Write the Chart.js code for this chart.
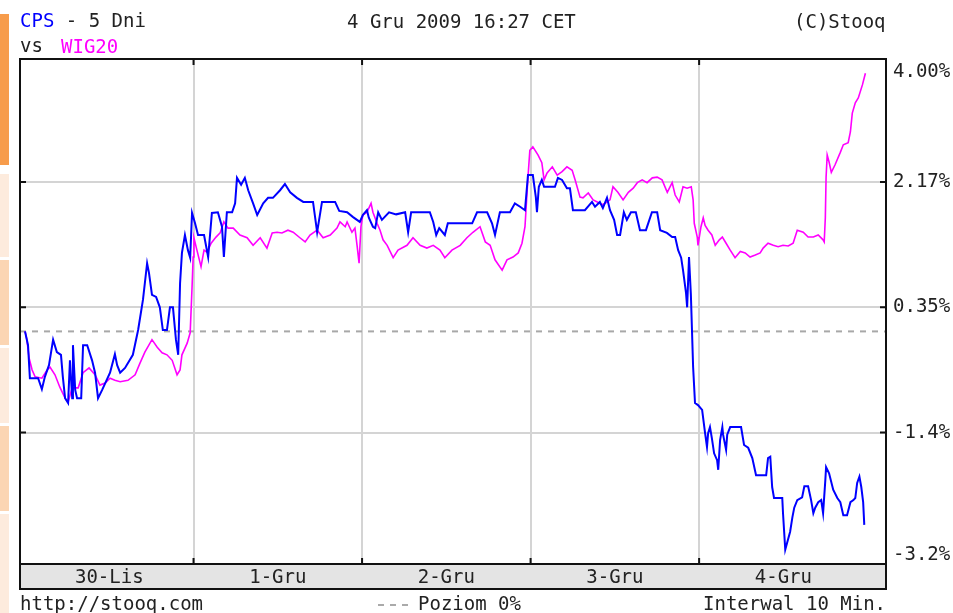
<!DOCTYPE html>
<html>
<head>
<meta charset="utf-8">
<script src="https://cdn.jsdelivr.net/npm/chart.js@4/dist/chart.umd.min.js"></script>
<style>
  * { margin: 0; padding: 0; }
  body { width: 953px; height: 613px; background: #fff; position: relative; overflow: hidden; }
  canvas { position: absolute; left: 0; top: 0; }
  .t {
    position: absolute;
    font-family: "DejaVu Sans Mono", monospace;
    font-size: 19px;
    line-height: 19px;
    color: #222;
    white-space: pre;
  }
  .strip { position: absolute; left: 0; width: 9px; }
</style>
</head>
<body>

<div class="strip" style="top:14px;height:151px;background:#f79c4b"></div>
<div class="strip" style="top:174px;height:83px;background:#fdebdd"></div>
<div class="strip" style="top:260px;height:85px;background:#fbd5b3"></div>
<div class="strip" style="top:348px;height:75px;background:#fdebdd"></div>
<div class="strip" style="top:426px;height:85px;background:#fbd5b3"></div>
<div class="strip" style="top:514px;height:99px;background:#fdebdd"></div>

<canvas id="chart" width="953" height="613"></canvas>

<div class="t" style="left:20px;top:11px"><span style="color:#0000ff">CPS</span> - 5 Dni</div>
<div class="t" style="left:347px;top:12px">4 Gru 2009 16:27 CET</div>
<div class="t" style="left:794px;top:12px">(C)Stooq</div>
<div class="t" style="left:20px;top:36px">vs</div>
<div class="t" style="left:61px;top:37px;color:#ff00ff">WIG20</div>

<div class="t" style="left:20px;top:594px">http://stooq.com</div>
<div style="position:absolute;left:378px;top:604px;width:34px;height:2px;background:repeating-linear-gradient(to right,#aaa 0 6px,transparent 6px 12px)"></div>
<div class="t" style="left:418px;top:594px">Poziom 0%</div>
<div class="t" style="left:703px;top:594px">Interwal 10 Min.</div>

<script>
// 10-minute bars, 45 per session
const barsPerDay = 45;
const dayLabels = ["30-Lis", "1-Gru", "2-Gru", "3-Gru", "4-Gru"];

// right axis
const yLabels = ["4.00%", "2.17%", "0.35%", "-1.4%", "-3.2%"];
const yLabelAt = [3.76, 2.17, 0.35, -1.47, -3.25];
const yGrid = [2.17, 0.35, -1.47];
const yMin = -3.378;
const yMax = 3.956;
const xMin = -1.34;
const xMax = 229.9;

// CPS (blue) - bar index / % change
const cpsT = [0, 0.8, 1.3, 3.5, 4.5, 5.3, 6.4, 7.5, 8.5, 9.6, 10.1, 10.7, 11.5, 12.0, 12.6, 12.8, 13.4, 13.9, 15.0, 15.5,
  16.6, 17.9, 18.7, 19.5, 20.6, 22.7, 24.0, 24.6, 25.4, 26.7, 28.8, 30.2, 31.5, 32.6, 33.1, 33.9, 35.0, 36.0, 36.8, 37.9,
  38.7, 39.5, 40.3, 40.9, 41.4, 41.9, 42.7, 43.5, 44.1, 44.6, 45.4, 46.2, 47.8, 48.9, 49.9, 51.5, 52.6, 53.1, 53.9, 55.3,
  56.1, 56.6, 57.7, 58.7, 59.6, 60.9, 62.0, 63.6, 64.9, 66.2, 68.1, 69.4, 70.8, 72.6, 74.3, 76.9, 78.0, 79.3, 82.8, 83.9,
  86.0, 87.6, 89.4, 90.2, 91.3, 91.8, 92.9, 93.5, 94.3, 95.3, 97.2, 99.1, 101.5, 102.3, 103.1, 108.1, 109.0, 109.8, 110.6, 112.1,
  112.9, 119.4, 120.7, 123.4, 124.7, 125.5, 126.8, 129.5, 130.8, 132.2, 133.5, 134.3, 135.6, 136.4, 136.7, 137.2, 138.0, 138.6, 141.5, 142.3,
  143.4, 144.7, 145.5, 146.3, 149.5, 151.4, 152.2, 153.5, 154.3, 155.4, 156.2, 157.3, 158.1, 158.9, 159.9, 160.7, 161.8, 163.1, 164.2, 165.8,
  167.4, 168.8, 169.6, 171.4, 172.8, 173.6, 174.4, 175.2, 175.7, 176.5, 176.8, 177.3, 177.8, 178.4, 178.9, 179.7, 180.8, 181.6, 182.1, 182.4,
  182.9, 183.4, 184.0, 184.8, 185.1, 185.6, 186.2, 186.4, 187.2, 187.5, 188.3, 191.2, 192.0, 193.1, 194.2, 195.2, 197.9, 198.4, 199.0, 199.5,
  200.0, 202.2, 202.4, 203.0, 203.5, 204.3, 204.9, 205.4, 206.2, 207.5, 208.1, 209.1, 209.9, 210.5, 211.0, 211.8, 212.6, 213.1, 213.7, 213.9,
  214.7, 215.8, 216.9, 217.7, 218.5, 219.5, 220.4, 221.2, 221.7, 222.2, 222.8, 223.3, 223.8, 224.1];
const cpsV = [0.00, -0.20, -0.68, -0.68, -0.84, -0.66, -0.49, -0.12, -0.30, -0.34, -0.66, -0.97, -1.04, -0.42, -0.97, -0.20, -0.85, -0.97, -0.97, -0.20,
  -0.20, -0.42, -0.60, -0.97, -0.85, -0.60, -0.33, -0.49, -0.60, -0.53, -0.34, 0.02, 0.46, 0.99, 0.85, 0.53, 0.50, 0.35, 0.02, 0.02,
  0.35, 0.35, -0.12, -0.34, 0.70, 1.14, 1.40, 1.18, 1.07, 1.72, 1.57, 1.40, 1.40, 1.08, 1.72, 1.73, 1.52, 1.08, 1.73, 1.73,
  1.86, 2.23, 2.13, 2.23, 2.05, 1.86, 1.69, 1.86, 1.94, 1.94, 2.05, 2.14, 2.02, 1.94, 1.88, 1.88, 1.44, 1.88, 1.88, 1.75,
  1.73, 1.66, 1.59, 1.69, 1.76, 1.65, 1.52, 1.50, 1.73, 1.62, 1.73, 1.70, 1.73, 1.44, 1.73, 1.73, 1.59, 1.40, 1.50, 1.40,
  1.57, 1.57, 1.73, 1.73, 1.57, 1.40, 1.73, 1.73, 1.86, 1.81, 1.76, 2.27, 2.27, 1.95, 1.73, 2.10, 2.20, 2.10, 2.10, 2.23,
  2.20, 2.08, 2.08, 1.76, 1.76, 1.88, 1.81, 1.88, 1.79, 1.94, 1.76, 1.62, 1.40, 1.40, 1.73, 1.62, 1.73, 1.73, 1.47, 1.47,
  1.73, 1.73, 1.47, 1.43, 1.37, 1.37, 1.18, 1.07, 0.89, 0.56, 0.35, 1.08, 0.53, -0.52, -1.04, -1.07, -1.14, -1.48, -1.68, -1.48,
  -1.39, -1.55, -1.77, -1.87, -2.01, -1.58, -1.39, -1.50, -1.72, -1.50, -1.39, -1.39, -1.65, -1.69, -1.84, -2.09, -2.09, -1.84, -1.82, -2.26,
  -2.42, -2.42, -2.64, -3.17, -3.07, -2.91, -2.70, -2.56, -2.45, -2.41, -2.25, -2.25, -2.45, -2.64, -2.56, -2.48, -2.45, -2.64, -2.16, -1.97,
  -2.06, -2.30, -2.42, -2.48, -2.67, -2.67, -2.48, -2.45, -2.42, -2.20, -2.11, -2.26, -2.48, -2.81];

// WIG20 (magenta) - bar index / % change
const wigT = [0, 0.5, 1.1, 1.9, 2.7, 4.5, 5.9, 6.7, 8.0, 9.3, 10.7, 11.5, 12.6, 14.2, 15.5, 17.1, 18.7, 20.0, 21.4, 22.7,
  24.0, 25.4, 27.5, 29.4, 30.7, 32.0, 33.9, 35.3, 36.6, 37.9, 39.3, 40.6, 41.4, 41.9, 43.3, 44.1, 44.6, 44.9, 45.1, 45.9,
  47.0, 47.8, 48.6, 49.7, 51.0, 52.1, 53.1, 54.2, 55.6, 57.4, 59.3, 60.9, 62.8, 64.6, 66.0, 67.3, 68.6, 70.2, 71.6, 73.4,
  74.8, 76.1, 78.0, 79.6, 81.5, 83.3, 84.1, 85.5, 86.0, 87.3, 88.1, 88.7, 89.2, 89.7, 90.2, 91.3, 92.4, 92.9, 94.0, 94.8,
  95.6, 96.7, 98.3, 99.6, 102.0, 103.6, 105.5, 107.3, 109.0, 110.8, 112.1, 114.0, 116.2, 118.0, 119.6, 121.5, 122.9, 124.2, 125.5, 127.4,
  128.7, 130.3, 131.7, 132.7, 133.5, 134.3, 134.8, 135.6, 137.0, 138.0, 138.6, 139.4, 140.8, 142.1, 143.4, 144.7, 146.1, 146.9, 148.2, 149.0,
  150.4, 151.7, 152.8, 154.1, 155.2, 156.2, 157.0, 158.3, 159.7, 161.1, 162.4, 163.5, 164.8, 166.1, 167.5, 168.8, 170.1, 171.5, 172.8, 173.6,
  174.7, 175.7, 176.8, 177.9, 178.4, 178.7, 179.5, 179.7, 180.5, 181.1, 181.6, 182.4, 183.4, 184.3, 185.4, 186.2, 187.2, 188.3, 189.6, 191.0,
  192.3, 193.6, 195.0, 196.3, 197.1, 198.4, 199.8, 201.1, 202.4, 203.8, 205.1, 206.2, 207.8, 209.1, 210.5, 211.8, 213.1, 213.4, 213.7, 213.9,
  214.2, 214.7, 215.3, 216.3, 217.7, 218.5, 219.8, 220.4, 220.9, 221.7, 222.5, 223.6, 224.4];
const wigV = [0.00, -0.12, -0.39, -0.56, -0.66, -0.68, -0.56, -0.52, -0.63, -0.81, -0.97, -1.03, -0.82, -0.82, -0.60, -0.53, -0.63, -0.78, -0.75, -0.68,
  -0.71, -0.73, -0.71, -0.63, -0.46, -0.30, -0.12, -0.23, -0.31, -0.34, -0.42, -0.63, -0.56, -0.34, -0.17, -0.02, 0.64, 1.08, 1.36, 1.18,
  0.94, 1.18, 1.15, 1.28, 1.37, 1.43, 1.59, 1.50, 1.50, 1.40, 1.36, 1.25, 1.36, 1.21, 1.43, 1.44, 1.43, 1.47, 1.44, 1.36,
  1.30, 1.40, 1.47, 1.36, 1.40, 1.50, 1.59, 1.52, 1.59, 1.44, 1.50, 1.23, 0.99, 1.52, 1.69, 1.73, 1.86, 1.73, 1.57, 1.47,
  1.33, 1.25, 1.07, 1.18, 1.25, 1.36, 1.25, 1.21, 1.25, 1.18, 1.07, 1.18, 1.25, 1.36, 1.44, 1.52, 1.30, 1.25, 1.04, 0.89,
  1.04, 1.08, 1.14, 1.28, 1.52, 2.24, 2.63, 2.68, 2.56, 2.45, 2.20, 2.30, 2.39, 2.27, 2.32, 2.39, 2.34, 2.20, 1.95, 1.94,
  2.01, 1.91, 1.88, 1.84, 1.87, 1.91, 2.10, 2.02, 1.91, 2.02, 2.08, 2.16, 2.20, 2.16, 2.23, 2.24, 2.20, 2.02, 2.16, 1.98,
  1.88, 2.10, 2.08, 2.10, 1.91, 1.57, 1.37, 1.25, 1.52, 1.65, 1.54, 1.47, 1.40, 1.25, 1.33, 1.37, 1.28, 1.18, 1.07, 1.16,
  1.14, 1.08, 1.11, 1.14, 1.21, 1.28, 1.25, 1.23, 1.25, 1.24, 1.28, 1.47, 1.44, 1.37, 1.37, 1.40, 1.33, 1.30, 1.65, 2.24,
  2.56, 2.46, 2.31, 2.42, 2.60, 2.71, 2.74, 2.90, 3.17, 3.32, 3.39, 3.58, 3.75];

const dayBounds = [1, 2, 3, 4].map(d => d * barsPerDay);
const dayCenters = dayLabels.map((l, i) => (i + 0.5) * barsPerDay);

const monoFont = { family: '"DejaVu Sans Mono", monospace', size: 19 };
const bandH = 25;

const frame = {
    id: 'frame',
    beforeDraw(chart) {
        const { ctx, chartArea: a } = chart;
        ctx.save();
        ctx.fillStyle = '#e4e4e4';
        ctx.fillRect(a.left, a.bottom, a.right - a.left, bandH);
        ctx.restore();
    },
    beforeDatasetsDraw(chart) {
        const { ctx, chartArea: a, scales } = chart;
        const y0 = scales.y.getPixelForValue(0);
        ctx.save();
        ctx.strokeStyle = '#a8a8a8';
        ctx.lineWidth = 2;
        ctx.setLineDash([6, 6]);
        ctx.beginPath();
        ctx.moveTo(a.left, y0);
        ctx.lineTo(a.right, y0);
        ctx.stroke();
        ctx.restore();
    },
    afterDraw(chart) {
        const { ctx, chartArea: a, scales } = chart;
        ctx.save();
        ctx.strokeStyle = '#111';
        ctx.lineWidth = 2;
        ctx.strokeRect(a.left, a.top, a.right - a.left, a.bottom + bandH - a.top);
        ctx.beginPath();
        ctx.moveTo(a.left, a.bottom);
        ctx.lineTo(a.right, a.bottom);
        // small inward ticks
        yGrid.forEach(v => {
            const y = scales.y.getPixelForValue(v);
            ctx.moveTo(a.left, y); ctx.lineTo(a.left + 6, y);
            ctx.moveTo(a.right - 6, y); ctx.lineTo(a.right, y);
        });
        dayBounds.forEach(v => {
            const x = scales.x.getPixelForValue(v);
            ctx.moveTo(x, a.top); ctx.lineTo(x, a.top + 6);
            ctx.moveTo(x, a.bottom - 6); ctx.lineTo(x, a.bottom);
        });
        ctx.stroke();
        ctx.restore();
    }
};

new Chart(document.getElementById('chart'), {
    type: 'line',
    data: {
        datasets: [
            {
                label: 'CPS',
                data: cpsT.map((t, i) => ({ x: t, y: cpsV[i] })),
                borderColor: '#0000ff',
                borderWidth: 2,
                pointRadius: 0,
                tension: 0,
                order: 1
            },
            {
                label: 'WIG20',
                data: wigT.map((t, i) => ({ x: t, y: wigV[i] })),
                borderColor: '#ff00ff',
                borderWidth: 1.6,
                pointRadius: 0,
                tension: 0,
                order: 2
            }
        ]
    },
    options: {
        responsive: false,
        animation: false,
        devicePixelRatio: 1,
        layout: { padding: { left: 20, top: 59, right: 0, bottom: 24 } },
        plugins: { legend: { display: false }, tooltip: { enabled: false } },
        scales: {
            x: {
                type: 'linear',
                position: 'bottom',
                min: xMin,
                max: xMax,
                afterBuildTicks: s => { s.ticks = dayBounds.map(v => ({ value: v })); },
                afterFit: s => { s.height = 0; },
                ticks: { display: false },
                grid: { color: '#d4d4d4', lineWidth: 2, drawTicks: false },
                border: { display: false }
            },
            xl: {
                type: 'linear',
                position: 'bottom',
                min: xMin,
                max: xMax,
                afterBuildTicks: s => { s.ticks = dayCenters.map(v => ({ value: v })); },
                afterFit: s => { s.height = bandH; },
                ticks: {
                    font: monoFont,
                    color: '#222',
                    padding: 3,
                    autoSkip: false,
                    maxRotation: 0,
                    callback: (v, i) => dayLabels[i]
                },
                grid: { display: false, drawTicks: false },
                border: { display: false }
            },
            y: {
                type: 'linear',
                position: 'right',
                min: yMin,
                max: yMax,
                afterBuildTicks: s => { s.ticks = yLabelAt.map(v => ({ value: v })); },
                afterFit: s => { s.width = 67; },
                ticks: {
                    font: monoFont,
                    color: '#222',
                    padding: 7,
                    autoSkip: false,
                    callback: (v, i) => yLabels[i]
                },
                grid: {
                    color: c => (c.index === 0 || c.index === yLabels.length - 1) ? 'rgba(0,0,0,0)' : '#d4d4d4',
                    lineWidth: 2,
                    drawTicks: false
                },
                border: { display: false }
            }
        }
    },
    plugins: [frame]
});
</script>
</body>
</html>
